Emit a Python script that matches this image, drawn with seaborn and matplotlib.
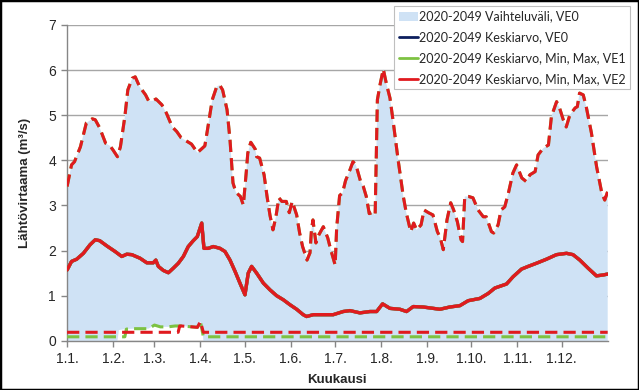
import numpy as np
import matplotlib
matplotlib.use('Agg')
import matplotlib.pyplot as plt
import seaborn as sns
from matplotlib.patches import Patch, Rectangle
from matplotlib.lines import Line2D

# day of year (0 = 1.1.) and flow values
max_day = [0, 3, 5, 9, 13, 17, 19, 22, 26, 29, 31, 34, 36, 39, 41, 44, 46, 49, 53, 55,
           58, 60, 64, 67, 71, 74, 77, 81, 84, 88, 90, 93, 95, 98, 101, 103, 105, 108, 110, 112,
           114, 117, 119, 121, 122, 124, 127, 128, 130, 133, 135, 137, 139, 141, 143, 145, 148, 150, 152, 155,
           157, 159, 162, 164, 165, 166, 168, 170, 173, 176, 178, 181, 182, 184, 186, 188, 191, 193, 195, 198,
           200, 202, 204, 206, 208, 209.5, 211.5, 213.5, 215.5, 218, 220, 223.5, 227, 229, 232, 234, 236, 239, 241, 244,
           247, 250, 252, 254, 256.5, 259, 261, 263.5, 266, 267, 268.5, 271, 274, 277.5, 281, 283, 286.5, 288, 291, 293,
           295.5, 298, 301, 303.5, 307, 310, 312.5, 316, 318, 321.5, 325, 327, 330.5, 332.5, 335, 337, 339.5, 343, 344.5, 346,
           348.5, 350.5, 354, 357.5, 361, 363, 365]
max_val = [3.42, 3.90, 3.97, 4.30, 4.83, 4.92, 4.90, 4.72, 4.38, 4.32, 4.23, 4.08, 4.30, 4.97, 5.56, 5.82, 5.85, 5.63, 5.45, 5.32,
           5.32, 5.36, 5.23, 5.05, 4.74, 4.64, 4.50, 4.42, 4.36, 4.17, 4.23, 4.32, 4.72, 5.34, 5.63, 5.67, 5.56, 5.12, 4.45, 3.50,
           3.29, 3.20, 3.01, 3.75, 4.16, 4.40, 4.25, 4.08, 4.05, 3.68, 3.20, 2.78, 2.46, 2.75, 3.17, 3.09, 3.09, 2.84, 3.09, 2.79,
           2.39, 2.09, 1.79, 1.95, 2.46, 2.68, 2.17, 2.35, 2.53, 2.28, 2.02, 1.68, 2.50, 3.22, 3.28, 3.55, 3.79, 3.97, 3.90, 3.55,
           3.42, 3.20, 2.82, 2.84, 2.79, 5.34, 5.71, 6.02, 5.71, 5.38, 4.90, 4.01, 3.20, 2.84, 2.42, 2.61, 2.46, 2.57, 2.90, 2.84,
           2.79, 2.42, 2.28, 2.02, 2.68, 3.06, 2.90, 2.64, 2.24, 2.20, 3.20, 3.20, 3.17, 2.90, 2.75, 2.75, 2.42, 2.39, 2.57, 2.90,
           2.97, 3.28, 3.72, 3.90, 3.61, 3.53, 3.68, 3.75, 4.12, 4.27, 4.34, 4.97, 5.30, 5.16, 4.90, 4.74, 5.01, 5.16, 5.19, 5.49,
           5.45, 5.19, 4.61, 3.86, 3.28, 3.12, 3.31]

mean_day = [0, 3, 6.5, 11, 15.5, 19, 22, 27, 32.4, 36.9, 40.3, 43.7, 49.3, 53.8, 58.2, 59.9, 61.6, 65, 68.4, 71.7,
            75.1, 78.5, 81.8, 85.2, 87.9, 90.9, 92.4, 95.3, 98.7, 103.2, 106.6, 110, 113.4, 116.7, 120.1, 122.3, 124.6, 128, 132.5, 137,
            141.5, 146, 150.5, 155, 159.4, 161.7, 166.2, 173, 179.7, 186.4, 191, 197.7, 204.5, 209, 213, 218, 224.7, 229.2, 233.7, 240.4,
            247.2, 251.7, 258.4, 265.2, 270.8, 278.7, 284.3, 288.8, 296.7, 301.1, 306.8, 311.3, 316.9, 323.7, 330.4, 337.2, 341.6, 346.2, 351.8, 357.4,
            361.9, 365]
mean_val = [1.57, 1.76, 1.81, 1.94, 2.13, 2.24, 2.22, 2.10, 1.98, 1.87, 1.92, 1.91, 1.83, 1.73, 1.73, 1.79, 1.65, 1.56, 1.51, 1.61,
            1.72, 1.87, 2.09, 2.22, 2.31, 2.61, 2.05, 2.05, 2.09, 2.05, 1.98, 1.79, 1.54, 1.28, 1.02, 1.50, 1.65, 1.50, 1.28, 1.13,
            1.00, 0.91, 0.80, 0.70, 0.58, 0.54, 0.58, 0.58, 0.58, 0.65, 0.67, 0.62, 0.65, 0.65, 0.82, 0.72, 0.70, 0.65, 0.76, 0.75,
            0.72, 0.70, 0.75, 0.78, 0.89, 0.94, 1.05, 1.17, 1.26, 1.42, 1.59, 1.65, 1.72, 1.81, 1.91, 1.94, 1.91, 1.79, 1.61, 1.44,
            1.46, 1.48]

min0_day = [0, 34, 35, 39, 44, 55, 59, 63, 68, 73, 77, 88, 90, 91.5, 92, 365]
min0_val = [0, 0, 0.24, 0.26, 0.27, 0.27, 0.35, 0.31, 0.31, 0.33, 0.33, 0.30, 0.43, 0.25, 0, 0]
min1_day = [0, 39, 40, 44, 55, 59, 63, 68, 73, 77, 88, 90, 92, 365]
min1_val = [0.09, 0.09, 0.26, 0.27, 0.27, 0.35, 0.31, 0.31, 0.33, 0.33, 0.30, 0.43, 0.09, 0.09]
min2_day = [0, 75, 76, 77, 88, 90, 92, 365]
min2_val = [0.19, 0.19, 0.33, 0.33, 0.30, 0.43, 0.19, 0.19]

month_days = [0, 31, 59, 90, 120, 151, 181, 212, 243, 273, 304, 334]
month_labels = ['1.1.', '1.2.', '1.3.', '1.4.', '1.5.', '1.6.', '1.7.', '1.8.', '1.9.', '1.10.', '1.11.', '1.12.']

labels = ['2020-2049 Vaihteluväli, VE0', '2020-2049 Keskiarvo, VE0',
          '2020-2049 Keskiarvo, Min, Max, VE1', '2020-2049 Keskiarvo, Min, Max, VE2']

fill_col = '#CFE2F5'
navy = '#0D1F5E'
green = '#7DC242'
red = '#E01A1F'
dash = (0, (4, 2))
font = ['Liberation Sans', 'DejaVu Sans']

sns.set_theme(style='white')
plt.rcParams['font.family'] = font

fig = plt.figure(figsize=(6.39, 3.9), dpi=100)
ax = fig.add_axes([0.105, 0.126, 0.846, 0.810])

# range band of VE0
ax.fill(np.r_[max_day, min0_day[::-1]], np.r_[max_val, min0_val[::-1]], color=fill_col, lw=0, zorder=1)

# mean lines
sns.lineplot(x=mean_day, y=mean_val, ax=ax, color=navy, lw=2.4, zorder=3)
sns.lineplot(x=mean_day, y=mean_val, ax=ax, color=green, lw=2.4, zorder=4)
sns.lineplot(x=mean_day, y=mean_val, ax=ax, color=red, lw=2.4, zorder=5)

# min / max lines
sns.lineplot(x=max_day, y=max_val, ax=ax, color=green, lw=2.2, linestyle=dash, zorder=4)
sns.lineplot(x=max_day, y=max_val, ax=ax, color=red, lw=2.2, linestyle=dash, zorder=5)
sns.lineplot(x=min1_day, y=min1_val, ax=ax, color=green, lw=2.2, linestyle=dash, zorder=4)
sns.lineplot(x=min2_day, y=min2_val, ax=ax, color=red, lw=2.2, linestyle=dash, zorder=5)

ax.set_xlim(0, 365)
ax.set_ylim(0, 7)
ax.set_xticks(month_days)
ax.set_xticklabels(month_labels, fontsize=10, family=font)
ax.set_yticks(range(0, 8))
ax.set_yticklabels([str(i) for i in range(0, 8)], fontsize=10, family=font)
ax.grid(axis='y', color='#A6A6A6', lw=1)
ax.set_axisbelow(True)
for s in ['top', 'right']:
    ax.spines[s].set_visible(False)
for s in ['left', 'bottom']:
    ax.spines[s].set_color('#868686')
    ax.spines[s].set_linewidth(1)
ax.tick_params(axis='both', which='major', direction='out', length=4, width=1, color='#868686', pad=4,
               bottom=True, left=True)
ax.set_xlabel('Kuukausi', fontsize=9.5, fontweight='bold', family=font, labelpad=6)
ax.set_ylabel('Lähtövirtaama (m³/s)', fontsize=9.5, fontweight='bold', family=font, labelpad=12)

handles = [Patch(facecolor=fill_col, edgecolor='none'),
           Line2D([], [], color=navy, lw=2),
           Line2D([], [], color=green, lw=2),
           Line2D([], [], color=red, lw=2)]
leg = fig.legend(handles, labels, loc='upper right', bbox_to_anchor=(636 / 639, 1.0), frameon=True,
                 fancybox=False, edgecolor='#BFBFBF', framealpha=1, handlelength=1.5,
                 handletextpad=0.1, borderpad=0.35, labelspacing=0.7, prop={'family': 'Lato', 'size': 9})
leg.get_frame().set_linewidth(0.8)

fig.patches.append(Rectangle((0, 0), 1, 1, transform=fig.transFigure, fill=False, ec='black', lw=2.5))

plt.savefig('out.png', dpi=100)
